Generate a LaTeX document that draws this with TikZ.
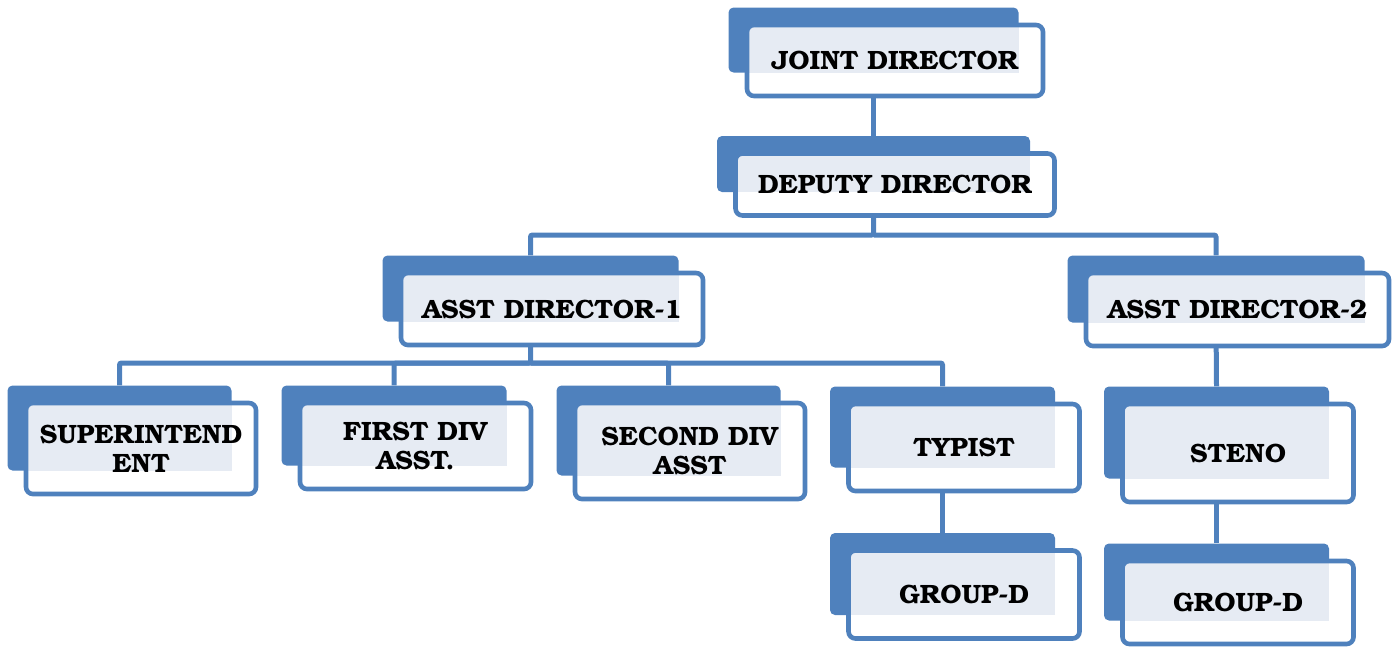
\documentclass[tikz,border=0pt]{standalone}
\usepackage[T1]{fontenc}
\usepackage{bookman}
\usetikzlibrary{calc}

\definecolor{orgblue}{RGB}{79,129,189}
\definecolor{orgtint}{RGB}{230,235,243}

\tikzset{
  plate/.style 2 args={fill=orgblue, rounded corners=5pt, inner sep=0pt,
    minimum width=#1pt-6pt, minimum height=#2pt-6pt},
  card/.style 2 args={draw=orgblue, line width=4.6pt, fill=white, rounded corners=7pt,
    minimum width=#1pt, minimum height=#2pt, inner sep=1pt, align=center,
    font=\bfseries\fontsize{26.5}{29}\selectfont,
    path picture={\fill[orgtint, sharp corners] (path picture bounding box.north west)
      rectangle ($(path picture bounding box.south east)+(-24.5pt,23.5pt)$);}},
  link/.style={draw=orgblue, line width=5pt, rounded corners=2pt}
}

\begin{document}
\begin{tikzpicture}[x=1pt, y=-1pt]
    \useasboundingbox (0,0) rectangle (1399,646);

    % Back plates
    \node [plate={296}{71}] (jdback)    at (873.5,40)   {};
    \node [plate={319}{62}] (ddback)    at (873.5,164)  {};
    \node [plate={302}{72}] (ad1back)   at (530.5,288.5) {};
    \node [plate={303}{73}] (ad2back)   at (1216,289)   {};
    \node [plate={230}{91}] (supback)   at (119.5,428)  {};
    \node [plate={231}{86}] (fdaback)   at (394,425.5)  {};
    \node [plate={230}{96}] (sdaback)   at (668.5,430.5) {};
    \node [plate={231}{87}] (typback)   at (942.5,427)  {};
    \node [plate={231}{98}] (stenoback) at (1216.5,432.5) {};
    \node [plate={231}{88}] (gd1back)   at (942.5,574)  {};
    \node [plate={231}{83}] (gd2back)   at (1216.5,582) {};

    % Links
    \coordinate (bus1) at (873.5,235);
    \coordinate (bus2) at (530.5,363);
    \path [link] (jdback.south)  -- (ddback.north);
    \path [link] (ddback.south)  -- (bus1) -| (ad1back.north);
    \path [link] (bus1) -| (ad2back.north);
    \path [link] (ad1back.south) -- (bus2) -| (supback.north);
    \path [link] (bus2) -| (fdaback.north);
    \path [link] (bus2) -| (sdaback.north);
    \path [link] (bus2) -| (typback.north);
    \path [link] (ad2back.south) -- (stenoback.north);
    \path [link] (typback.south) -- (gd1back.north);
    \path [link] (stenoback.south) -- (gd2back.north);

    % Front cards
    \node [card={296}{71}] (jd)    at ($(jdback)+(21.5pt,-20.5pt)$)    {JOINT DIRECTOR};
    \node [card={319}{62}] (dd)    at ($(ddback)+(21.5pt,-20.5pt)$)    {DEPUTY DIRECTOR};
    \node [card={302}{72}] (ad1)   at ($(ad1back)+(21.5pt,-20.5pt)$)   {ASST DIRECTOR-1};
    \node [card={303}{73}] (ad2)   at ($(ad2back)+(21.5pt,-20.5pt)$)   {ASST DIRECTOR-2};
    \node [card={230}{91}] (sup)   at ($(supback)+(21.5pt,-20.5pt)$)   {SUPERINTEND\\ENT};
    \node [card={231}{86}] (fda)   at ($(fdaback)+(21.5pt,-20.5pt)$)   {FIRST DIV\\ASST.};
    \node [card={230}{96}] (sda)   at ($(sdaback)+(21.5pt,-20.5pt)$)   {SECOND DIV\\ASST};
    \node [card={231}{87}] (typ)   at ($(typback)+(21.5pt,-20.5pt)$)   {TYPIST};
    \node [card={231}{98}] (steno) at ($(stenoback)+(21.5pt,-20.5pt)$) {STENO};
    \node [card={231}{88}] (gd1)   at ($(gd1back)+(21.5pt,-20.5pt)$)   {GROUP-D};
    \node [card={231}{83}] (gd2)   at ($(gd2back)+(21.5pt,-20.5pt)$)   {GROUP-D};

\end{tikzpicture}
\end{document}
